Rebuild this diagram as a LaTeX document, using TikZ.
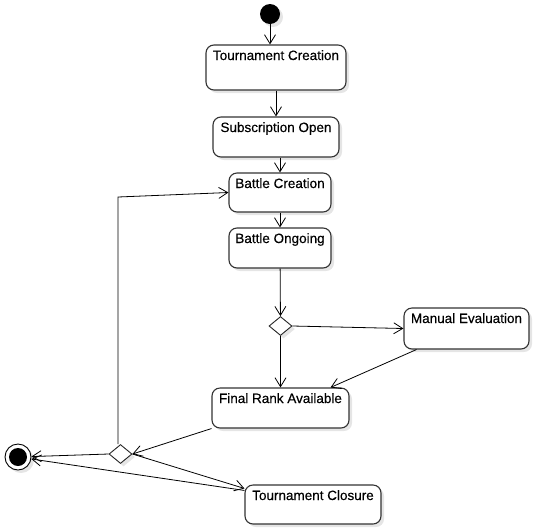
\documentclass[tikz,border=0pt]{standalone}
\usepackage{fontspec}
\setmainfont{Liberation Sans}
\newfontfamily\actfont{Liberation Sans}[FakeBold=0.35]
\usetikzlibrary{arrows.meta}
\usetikzlibrary{shapes.geometric,shadows}

\begin{document}
\begin{tikzpicture}[x=1pt,y=-1pt,
    shade/.style={drop shadow={shadow xshift=3pt,shadow yshift=-3pt,fill=black!10,opacity=1}},
    act/.style={draw=black!80,line width=1.1pt,rounded corners=8pt,fill=white,shade,
      font=\actfont\fontsize{13.5}{16}\selectfont,inner ysep=5pt,text height=10pt,text depth=19pt},
    dec/.style={diamond,draw=black!85,line width=0.9pt,fill=white,shade,inner sep=0pt,
      minimum width=23pt,minimum height=19pt},
    flow/.style={-{Straight Barb[length=9pt,width=11pt]},line width=0.8pt}]
    \useasboundingbox (0,0) rectangle (540,528);
    % start and end
    \node[circle,fill=black,minimum size=20pt,inner sep=0pt,shade] (init) at (270,14) {};
    \node[circle,draw,fill=white,line width=0.9pt,minimum size=26pt,inner sep=0pt,shade] (fin) at (18,457) {};
    \fill (fin.center) circle (9pt);
    % activities
    \node[act,minimum width=140pt,text depth=25pt] (tc) at (276,67.5) {Tournament Creation};
    \node[act,minimum width=126pt,text depth=20pt] (so) at (276,137) {Subscription Open};
    \node[act,minimum width=102pt] (bc) at (280,192.5) {Battle Creation};
    \node[act,minimum width=102pt,text depth=20pt] (bo) at (280,248) {Battle Ongoing};
    \node[act,minimum width=125pt,text depth=21pt] (me) at (466.5,328.5) {Manual Evaluation};
    \node[act,minimum width=137pt,text depth=20pt] (fra) at (280.5,408) {Final Rank Available};
    \node[act,minimum width=136pt] (tcl) at (313,504.5) {Tournament Closure};
    % decisions
    \node[dec] (d1) at (280.5,326) {};
    \node[dec] (d2) at (120.5,454) {};
    \coordinate (back) at (118,197);
    % flows
    \draw[flow] (init) -- (init |- tc.north);
    \draw[flow] (tc) -- (so);
    \draw[flow] (so.south -| bc.north) -- (bc.north);
    \draw[flow] (bc) -- (bo);
    \draw[flow] (bo) -- (d1);
    \draw[flow] (d1.east) -- (me.west);
    \draw[flow] (d1.south) -- (fra.north);
    \draw[flow] ([xshift=13pt]me.south west) -- ([xshift=-19pt]fra.north east);
    \draw[flow] (fra.south west) -- (d2.east);
    \draw[flow] ([xshift=-2.5pt]d2.north) -- (back) -- (bc.west);
    \draw[flow] (d2.west) -- (fin);
    \draw[flow] (d2.east) -- ([yshift=-4pt]tcl.north west);
    \draw[flow] ([yshift=-6pt]tcl.north west) -- (fin);
\end{tikzpicture}
\end{document}
